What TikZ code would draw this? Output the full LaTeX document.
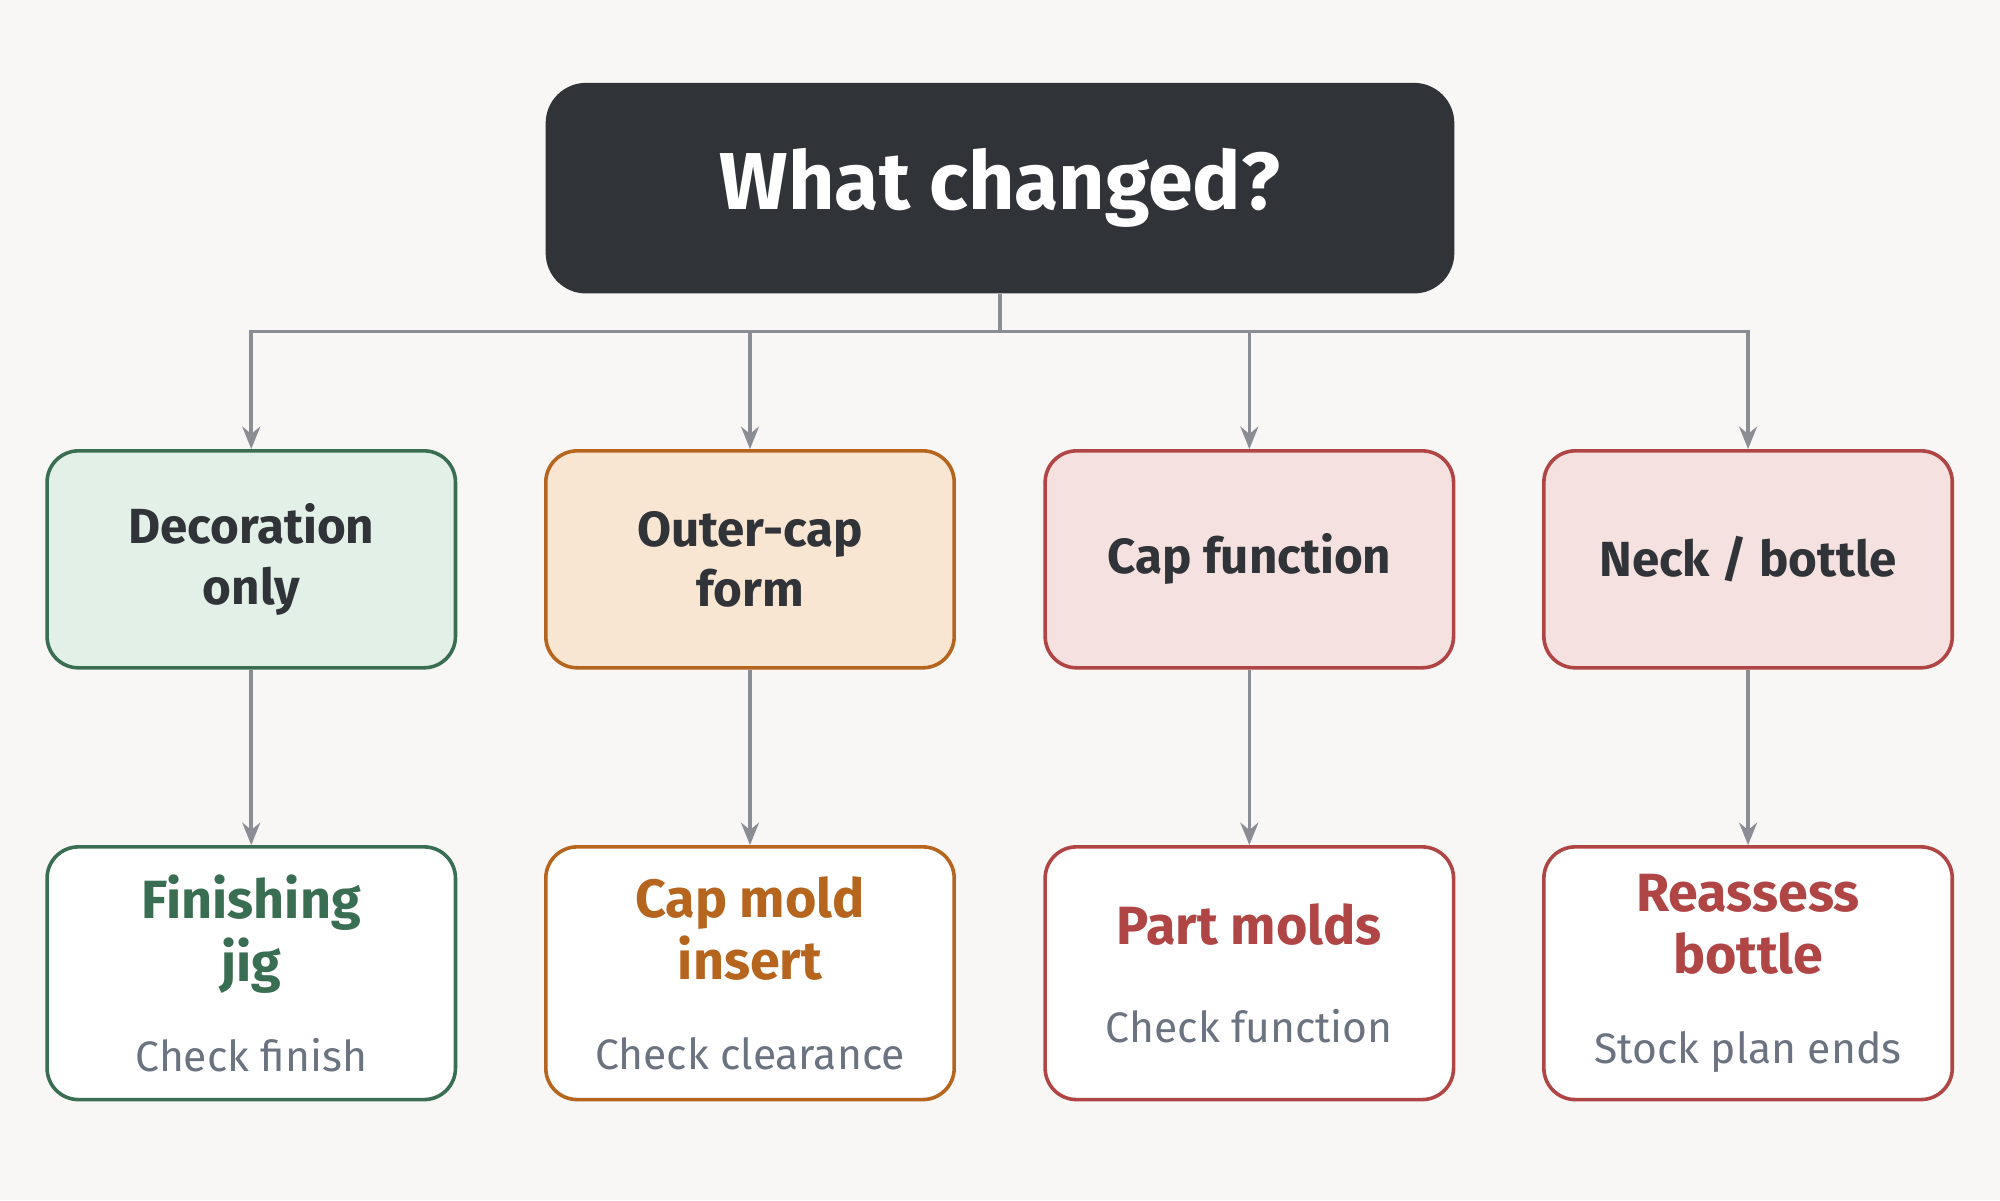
\documentclass[tikz,border=0pt]{standalone}
\usepackage{fontspec}
\setmainfont{Fira Sans}
\usetikzlibrary{positioning,arrows.meta}
\definecolor{bgc}{HTML}{F9F7F5}
\definecolor{darkc}{HTML}{303338}
\definecolor{linec}{HTML}{8A8D93}
\definecolor{subc}{HTML}{6B7280}
\definecolor{grnF}{HTML}{E3F0E8}\definecolor{grnD}{HTML}{3A6E53}
\definecolor{orgF}{HTML}{F8E6D3}\definecolor{orgD}{HTML}{B5651D}
\definecolor{redF}{HTML}{F5E1DF}\definecolor{redD}{HTML}{B04545}
\newcommand{\ttl}{\fontsize{12}{14}\selectfont\bfseries}
\newcommand{\sbt}{\color{subc}\fontsize{9.5}{11}\selectfont\mdseries}
\tikzset{
  box/.style={draw, rounded corners=7pt, line width=0.8pt, minimum width=3.2cm, minimum height=1.7cm, align=center, inner sep=2pt},
  mid/.style={box, font=\fontsize{11}{13.5}\selectfont\bfseries, text=darkc},
  low/.style={box, fill=white, minimum height=1.98cm},
  conn/.style={draw=linec, line width=0.8pt, -{Stealth[length=5pt,width=4pt]}}
}
\begin{document}
\begin{tikzpicture}[x=0.01cm,y=-0.01cm]
\fill[bgc] (0,0) rectangle (1568,941);
\node[fill=darkc, rounded corners=9pt, minimum width=7.12cm, minimum height=1.65cm, text=white, font=\fontsize{18}{21}\selectfont\bfseries] (top) at (784,147.5) {What changed?};

\node[mid, fill=grnF, draw=grnD] (dec) at (197,438.5) {Decoration\\only};
\node[mid, fill=orgF, draw=orgD] (outer) at (588,438.5) {Outer-cap\\form};
\node[mid, fill=redF, draw=redD] (capf) at (979.5,438.5) {Cap function};
\node[mid, fill=redF, draw=redD] (neck) at (1370.5,438.5) {Neck / bottle};

\node[low, draw=grnD, text=grnD, font=\ttl] (jig) at (197,763) {Finishing\\jig\\[6pt]\sbt Check finish};
\node[low, draw=orgD, text=orgD, font=\ttl] (mold) at (588,763) {Cap mold\\insert\\[6pt]\sbt Check clearance};
\node[low, draw=redD, text=redD, font=\ttl] (part) at (979.5,763) {Part molds\\[8pt]\sbt Check function};
\node[low, draw=redD, text=redD, font=\ttl] (reas) at (1370.5,763) {Reassess\\bottle\\[6pt]\sbt Stock plan ends};

\foreach \n in {dec,outer,capf,neck}
  \draw[conn] (top.south) -- ++(0,29) -| (\n.north);
\draw[conn] (dec) -- (jig);
\draw[conn] (outer) -- (mold);
\draw[conn] (capf) -- (part);
\draw[conn] (neck) -- (reas);
\end{tikzpicture}
\end{document}
